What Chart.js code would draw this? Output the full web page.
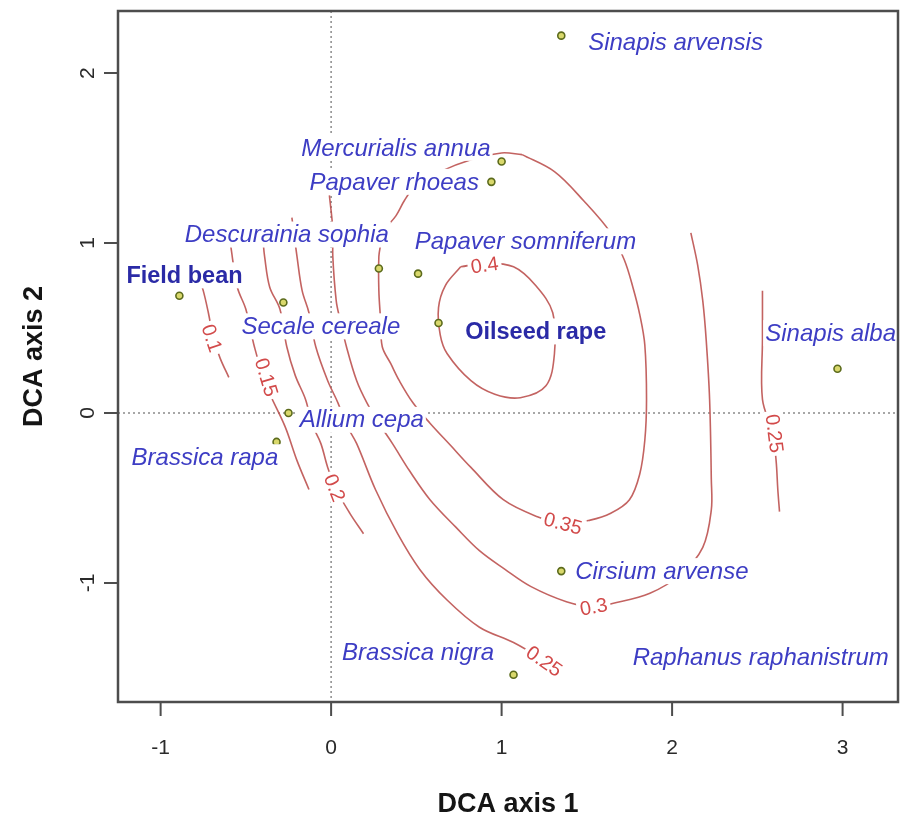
<!DOCTYPE html>
<html>
<head>
<meta charset="utf-8">
<title>DCA ordination with fitted surface</title>
<script src="https://cdn.jsdelivr.net/npm/chart.js@4.4.1/dist/chart.umd.min.js"></script>
<style>
  html, body { margin: 0; padding: 0; background: #fff; overflow: hidden; }
  #wrap { width: 900px; height: 822px; position: relative; }
</style>
</head>
<body>
<div id="wrap"><canvas id="dca"></canvas></div>
<script>
// =========================================================
// DCA ordination — species scores + fitted surface contours
// =========================================================

// ---------- Axes ----------
var xMin = -1.25, xMax = 3.325;
var yMin = -1.70, yMax = 2.365;
var xTicks = [-1, 0, 1, 2, 3];
var yTicks = [-1, 0, 1, 2];
var xTitle = "DCA axis 1";
var yTitle = "DCA axis 2";

// ---------- Species scores ----------
var speciesNames = ["Sinapis arvensis", "Mercurialis annua", "Papaver rhoeas", "Descurainia sophia",
    "Papaver somniferum", "Field bean", "Secale cereale", "Oilseed rape", "Sinapis alba",
    "Allium cepa", "Brassica rapa", "Cirsium arvense", "Brassica nigra", "Raphanus raphanistrum"];
var speciesX = [1.35, 1.00, 0.94, 0.28, 0.51, -0.89, -0.28, 0.63, 2.97, -0.25, -0.32, 1.35, 1.07, 2.52];
var speciesY = [2.22, 1.48, 1.36, 0.85, 0.82, 0.69, 0.65, 0.53, 0.26, 0.00, -0.17, -0.93, -1.54, -1.44];
// where each name is written (data units)
var labelX = [2.02, 0.38, 0.37, -0.26, 1.14, -0.86, -0.06, 1.20, 2.93, 0.18, -0.74, 1.94, 0.51, 2.52];
var labelY = [2.18, 1.56, 1.36, 1.05, 1.01, 0.81, 0.51, 0.48, 0.47, -0.04, -0.26, -0.93, -1.41, -1.44];
var cropNames = ["Field bean", "Oilseed rape"];

// ---------- Contours of the fitted surface ----------
var c10x = [-0.78, -0.75, -0.72, -0.69, -0.65, -0.60];
var c10y = [0.81, 0.72, 0.59, 0.44, 0.32, 0.21];

var c15x = [-0.59, -0.55, -0.50, -0.45, -0.38, -0.27, -0.20, -0.13];
var c15y = [0.99, 0.74, 0.61, 0.39, 0.16, -0.08, -0.28, -0.45];

var c20x = [-0.40, -0.39, -0.36, -0.30, -0.26, -0.21, -0.15, -0.11, -0.06, -0.02, 0.03, 0.11, 0.19];
var c20y = [1.02, 0.92, 0.74, 0.61, 0.39, 0.22, 0.08, -0.07, -0.18, -0.32, -0.45, -0.59, -0.71];

var c25ax = [-0.23, -0.20, -0.17, -0.13, -0.09, -0.02, 0.04, 0.09, 0.15, 0.26, 0.39, 0.52, 0.68, 0.87, 1.07, 1.24, 1.34];
var c25ay = [1.15, 0.92, 0.72, 0.59, 0.39, 0.19, 0.06, -0.07, -0.18, -0.45, -0.71, -0.92, -1.10, -1.26, -1.35, -1.45, -1.52];

var c25bx = [2.53, 2.53, 2.53, 2.59, 2.61, 2.62, 2.63];
var c25by = [0.72, 0.43, 0.08, -0.12, -0.28, -0.45, -0.58];

var c30x = [-0.01, 0.01, 0.01, 0.03, 0.05, 0.09, 0.15, 0.21, 0.28, 0.36, 0.46, 0.58, 0.73, 0.87, 1.02, 1.17,
    1.38, 1.54, 1.65, 1.87, 2.05, 2.18, 2.23, 2.23, 2.22, 2.20, 2.18, 2.15, 2.11];
var c30y = [1.28, 1.08, 0.92, 0.66, 0.56, 0.39, 0.19, 0.06, -0.06, -0.18, -0.34, -0.51, -0.67, -0.81, -0.92, -1.02,
    -1.11, -1.14, -1.12, -1.06, -0.95, -0.79, -0.57, -0.39, 0.08, 0.43, 0.66, 0.87, 1.06];

var c35x = [1.12, 1.31, 1.48, 1.64, 1.72, 1.77, 1.81, 1.84, 1.85, 1.84, 1.81, 1.75, 1.64, 1.52, 1.36, 1.21, 1.01,
    0.82, 0.70, 0.58, 0.48, 0.40, 0.35, 0.30, 0.29, 0.28, 0.28, 0.29, 0.30, 0.38, 0.43, 0.49, 0.64, 0.82, 1.00, 1.12];
var c35y = [1.52, 1.42, 1.25, 1.06, 0.90, 0.74, 0.58, 0.40, 0.08, -0.16, -0.36, -0.51, -0.59, -0.63, -0.65, -0.61, -0.51,
    -0.32, -0.19, -0.06, 0.06, 0.19, 0.29, 0.39, 0.55, 0.72, 0.92, 0.99, 1.06, 1.16, 1.25, 1.33, 1.42, 1.49, 1.53, 1.52];

var c40x = [0.76, 0.67, 0.63, 0.64, 0.68, 0.82, 0.96, 1.11, 1.26, 1.31, 1.30, 1.20, 1.07, 0.90, 0.76];
var c40y = [0.86, 0.75, 0.62, 0.46, 0.35, 0.19, 0.11, 0.09, 0.16, 0.35, 0.59, 0.75, 0.86, 0.88, 0.86];

var contourLevels = ["0.1", "0.15", "0.2", "0.25", "0.25", "0.3", "0.35", "0.4"];
var contourXs = [c10x, c15x, c20x, c25ax, c25bx, c30x, c35x, c40x];
var contourYs = [c10y, c15y, c20y, c25ay, c25by, c30y, c35y, c40y];

// contour labels (written along the line)
var contourLabelText = ["0.1", "0.15", "0.2", "0.25", "0.25", "0.3", "0.35", "0.4"];
var contourLabelX = [-0.70, -0.38, 0.02, 1.25, 2.60, 1.54, 1.36, 0.90];
var contourLabelY = [0.44, 0.21, -0.44, -1.46, -0.12, -1.14, -0.65, 0.87];

(function () {
    "use strict";

    var FONT = "'Liberation Sans', Arial, sans-serif";
    var LINE_COLOR = "rgba(188, 82, 80, 0.9)";
    var LEVEL_COLOR = "#d24a4a";
    var SPECIES_COLOR = "#3d3dc4";
    var CROP_COLOR = "#2a2aa6";
    var AXIS_COLOR = "#4d4d4d";

    function toXY(xs, ys) {
        return xs.map(function (v, i) { return { x: v, y: ys[i] }; });
    }

    var datasets = [{
        label: "species",
        data: toXY(speciesX, speciesY),
        pointRadius: 3.5,
        pointBackgroundColor: "#d9d86c",
        pointBorderColor: "#5c6b1c",
        pointBorderWidth: 1.6,
        showLine: false
    }];

    contourLevels.forEach(function (lvl, i) {
        datasets.push({
            label: "contour " + lvl,
            data: toXY(contourXs[i], contourYs[i]),
            showLine: true,
            borderColor: LINE_COLOR,
            borderWidth: 1.6,
            pointRadius: 0,
            tension: 0.35,
            fill: false
        });
    });

    // ---------- Plot furniture drawn in R style ----------
    var rAxes = {
        id: "rAxes",
        beforeDatasetsDraw: function (chart) {
            var ctx = chart.ctx, a = chart.chartArea;
            var x0 = chart.scales.x.getPixelForValue(0);
            var y0 = chart.scales.y.getPixelForValue(0);
            ctx.save();
            ctx.strokeStyle = "#8a8a8a";
            ctx.lineWidth = 1.5;
            ctx.setLineDash([2, 3]);
            ctx.beginPath();
            ctx.moveTo(x0, a.top); ctx.lineTo(x0, a.bottom);
            ctx.moveTo(a.left, y0); ctx.lineTo(a.right, y0);
            ctx.stroke();
            ctx.restore();
        },
        afterDatasetsDraw: function (chart) {
            var ctx = chart.ctx, xs = chart.scales.x, ys = chart.scales.y;

            // contour level labels, oriented along their line
            ctx.save();
            ctx.font = "20px " + FONT;
            ctx.textAlign = "center";
            ctx.textBaseline = "middle";
            contourLabelText.forEach(function (txt, k) {
                var px = xs.getPixelForValue(contourLabelX[k]);
                var py = ys.getPixelForValue(contourLabelY[k]);
                var best = Infinity, ang = 0;
                contourXs.forEach(function (cx, ci) {
                    var cy = contourYs[ci];
                    for (var i = 0; i < cx.length - 1; i++) {
                        var ax = xs.getPixelForValue(cx[i]), ay = ys.getPixelForValue(cy[i]);
                        var bx = xs.getPixelForValue(cx[i + 1]), by = ys.getPixelForValue(cy[i + 1]);
                        var mx = (ax + bx) / 2 - px, my = (ay + by) / 2 - py;
                        var d = mx * mx + my * my;
                        if (d < best) { best = d; ang = Math.atan2(by - ay, bx - ax); }
                    }
                });
                if (ang > Math.PI / 2) ang -= Math.PI;
                if (ang < -Math.PI / 2) ang += Math.PI;
                var w = ctx.measureText(txt).width;
                ctx.save();
                ctx.translate(px, py);
                ctx.rotate(ang);
                ctx.fillStyle = "#fff";
                ctx.fillRect(-w / 2 - 3, -9, w + 6, 18);
                ctx.fillStyle = LEVEL_COLOR;
                ctx.fillText(txt, 0, 1);
                ctx.restore();
            });
            ctx.restore();

            // species names on white boxes
            ctx.save();
            ctx.textAlign = "center";
            ctx.textBaseline = "middle";
            speciesNames.forEach(function (name, i) {
                var crop = cropNames.indexOf(name) >= 0;
                ctx.font = (crop ? "bold 23.5px " : "italic 24px ") + FONT;
                var px = xs.getPixelForValue(labelX[i]);
                var py = ys.getPixelForValue(labelY[i]);
                var w = ctx.measureText(name).width;
                ctx.fillStyle = "#fff";
                ctx.fillRect(px - w / 2 - 2, py - 13, w + 4, 26);
                ctx.fillStyle = crop ? CROP_COLOR : SPECIES_COLOR;
                ctx.fillText(name, px, py + 1);
            });
            ctx.restore();
        },
        afterDraw: function (chart) {
            var ctx = chart.ctx, a = chart.chartArea, xs = chart.scales.x, ys = chart.scales.y;
            ctx.save();
            ctx.strokeStyle = AXIS_COLOR;
            ctx.lineWidth = 2.5;
            ctx.strokeRect(a.left, a.top, a.right - a.left, a.bottom - a.top);

            ctx.lineWidth = 2;
            ctx.beginPath();
            xTicks.forEach(function (t) {
                var p = xs.getPixelForValue(t);
                ctx.moveTo(p, a.bottom); ctx.lineTo(p, a.bottom + 14);
            });
            yTicks.forEach(function (t) {
                var p = ys.getPixelForValue(t);
                ctx.moveTo(a.left, p); ctx.lineTo(a.left - 14, p);
            });
            ctx.stroke();

            ctx.fillStyle = "#2a2a2a";
            ctx.font = "21px " + FONT;
            ctx.textAlign = "center";
            ctx.textBaseline = "middle";
            xTicks.forEach(function (t) {
                ctx.fillText(String(t), xs.getPixelForValue(t), a.bottom + 46);
            });
            yTicks.forEach(function (t) {
                ctx.save();
                ctx.translate(a.left - 30, ys.getPixelForValue(t));
                ctx.rotate(-Math.PI / 2);
                ctx.fillText(String(t), 0, 0);
                ctx.restore();
            });

            ctx.fillStyle = "#151515";
            ctx.font = "bold 27px " + FONT;
            ctx.fillText(xTitle, (a.left + a.right) / 2, a.bottom + 103);
            ctx.save();
            ctx.translate(35, (a.top + a.bottom) / 2);
            ctx.rotate(-Math.PI / 2);
            ctx.fillText(yTitle, 0, 0);
            ctx.restore();
            ctx.restore();
        }
    };

    new Chart(document.getElementById("dca"), {
        type: "scatter",
        data: { datasets: datasets },
        options: {
            responsive: true,
            maintainAspectRatio: false,
            animation: false,
            events: [],
            layout: { autoPadding: false, padding: { left: 118, top: 11, right: 2, bottom: 120 } },
            plugins: { legend: { display: false }, tooltip: { enabled: false } },
            scales: {
                x: { type: "linear", min: xMin, max: xMax, display: false },
                y: { type: "linear", min: yMin, max: yMax, display: false }
            }
        },
        plugins: [rAxes]
    });
})();
</script>
</body>
</html>
